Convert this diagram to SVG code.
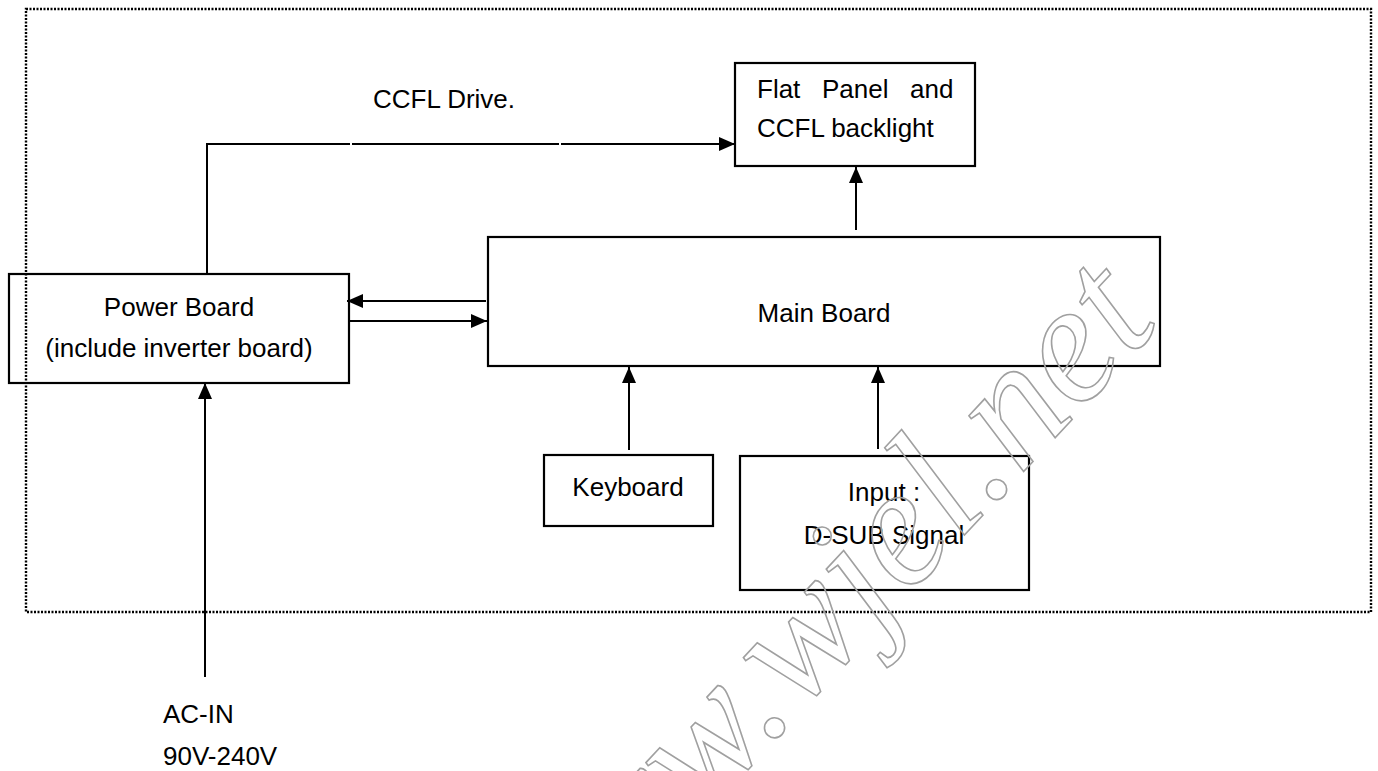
<svg xmlns="http://www.w3.org/2000/svg" width="1378" height="771" viewBox="0 0 1378 771">
<style>
text{font-family:"Liberation Sans",Arial,sans-serif;font-size:26px;fill:#000}
.box{fill:none;stroke:#000;stroke-width:2.2}
.ln{fill:none;stroke:#000;stroke-width:2}
.frame{fill:none;stroke:#000;stroke-width:2.4;stroke-dasharray:2 1.5}
.wm{font-family:"Liberation Serif","DejaVu Serif",serif;font-style:italic;font-size:170px;fill:none;stroke:#a0a0a0;stroke-width:1.6}
</style>
<defs>
<marker id="ah" viewBox="0 0 16 14" refX="16" refY="7" markerWidth="16" markerHeight="14" markerUnits="userSpaceOnUse" orient="auto">
<path d="M0,0 L16,7 L0,14 Z" fill="#000"/>
</marker>
</defs>
<rect class="frame" x="26" y="9" width="1345" height="603"/>
<g id="connectors">
<polyline class="ln" points="207,274 207,144 350,144"/>
<line class="ln" x1="352" y1="144" x2="559" y2="144"/>
<line class="ln" x1="561" y1="144" x2="735" y2="144" marker-end="url(#ah)"/>
<line class="ln" x1="856" y1="230" x2="856" y2="167" marker-end="url(#ah)"/>
<line class="ln" x1="486" y1="301" x2="347" y2="301" marker-end="url(#ah)"/>
<line class="ln" x1="350" y1="321" x2="487" y2="321" marker-end="url(#ah)"/>
<line class="ln" x1="205" y1="677" x2="205" y2="383" marker-end="url(#ah)"/>
<line class="ln" x1="629" y1="450" x2="629" y2="367" marker-end="url(#ah)"/>
<line class="ln" x1="878" y1="449" x2="878" y2="367" marker-end="url(#ah)"/>
</g>
<g id="ccfl-label"><text x="373" y="108">CCFL Drive.</text></g>
<g id="flat-panel">
<rect class="box" x="735" y="63" width="240" height="103"/>
<text y="98"><tspan x="757">Flat</tspan><tspan x="822">Panel</tspan><tspan x="910">and</tspan></text>
<text x="757" y="137">CCFL backlight</text>
</g>
<g id="main-board">
<rect class="box" x="488" y="237" width="672" height="129"/>
<text x="824" y="322" text-anchor="middle">Main Board</text>
</g>
<g id="power-board">
<rect class="box" x="9" y="274" width="340" height="109"/>
<text x="179" y="316" text-anchor="middle">Power Board</text>
<text x="179" y="357" text-anchor="middle">(include inverter board)</text>
</g>
<g id="keyboard">
<rect class="box" x="544" y="455" width="169" height="71"/>
<text x="628" y="496" text-anchor="middle">Keyboard</text>
</g>
<g id="input">
<rect class="box" x="740" y="456" width="289" height="134"/>
<text x="884" y="501" text-anchor="middle">Input :</text>
<text x="884" y="544" text-anchor="middle">D-SUB Signal</text>
</g>
<g id="ac-in">
<text x="163" y="723">AC-IN</text>
<text x="163" y="765">90V-240V</text>
</g>
<text class="wm" transform="translate(545,985) rotate(-47)">www.wjel.net</text>
</svg>
